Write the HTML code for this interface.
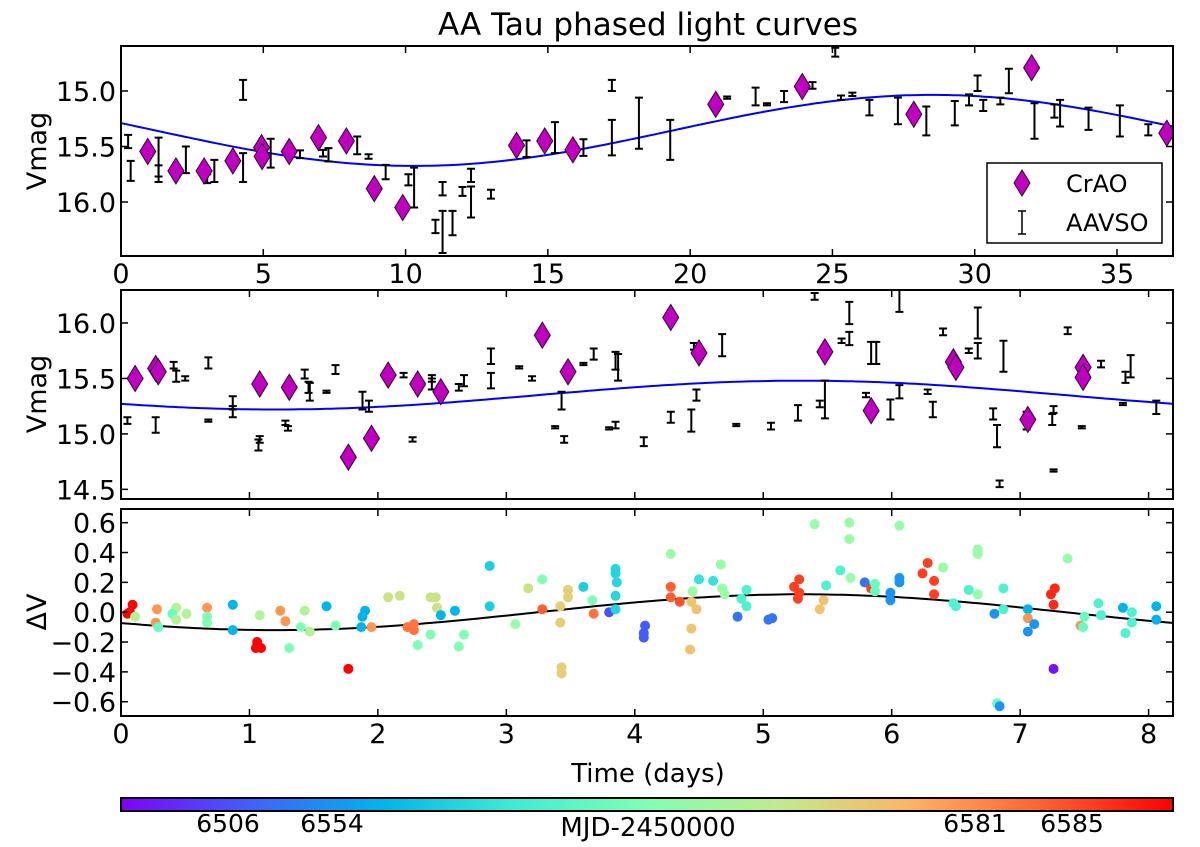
<!DOCTYPE html>
<html><head><meta charset="utf-8"><style>
html,body{margin:0;padding:0;background:#fff;}
svg{display:block;font-family:"DejaVu Sans","Liberation Sans",sans-serif;}
</style></head><body>
<svg id="fig" width="1200" height="847" viewBox="0 0 1200 847" xmlns="http://www.w3.org/2000/svg">
<defs>
<linearGradient id="rb" x1="0" x2="1" y1="0" y2="0">
<stop offset="0" stop-color="#8000ff"/><stop offset="0.125" stop-color="#4062fa"/><stop offset="0.25" stop-color="#00b5eb"/><stop offset="0.375" stop-color="#40ecd4"/><stop offset="0.5" stop-color="#80ffb4"/><stop offset="0.625" stop-color="#c0eb8d"/><stop offset="0.75" stop-color="#ffb462"/><stop offset="0.875" stop-color="#ff6232"/><stop offset="1" stop-color="#ff0000"/>
</linearGradient>
<clipPath id="c1"><rect x="121" y="46" width="1052" height="210"/></clipPath>
<clipPath id="c2"><rect x="121" y="290" width="1052" height="209"/></clipPath>
<clipPath id="c3"><rect x="121" y="509" width="1052" height="207"/></clipPath>
</defs>
<text x="648" y="35" font-size="31" text-anchor="middle">AA Tau phased light curves</text>
<text transform="translate(46,151) rotate(-90)" font-size="27" text-anchor="middle">Vmag</text>
<text transform="translate(46,394) rotate(-90)" font-size="27" text-anchor="middle">Vmag</text>
<text transform="translate(46,612) rotate(-90)" font-size="27" text-anchor="middle">ΔV</text>
<text x="648" y="782" font-size="26" text-anchor="middle">Time (days)</text>
<g id="g1"></g>
<g id="g2"></g>
<g id="g3"></g>
<rect x="121" y="798" width="1052" height="13" fill="url(#rb)" stroke="#000" stroke-width="2"/>
<text x="228" y="832" font-size="25" text-anchor="middle">6506</text>
<text x="332" y="832" font-size="25" text-anchor="middle">6554</text>
<text x="648" y="836" font-size="26" text-anchor="middle">MJD-2450000</text>
<text x="975" y="832" font-size="25" text-anchor="middle">6581</text>
<text x="1072" y="832" font-size="25" text-anchor="middle">6585</text>
</svg>
<script>
// ---- Panel 1 data ----
const p1CrDays=[0.94,1.93,2.92,3.93,4.94,4.96,5.91,6.94,7.92,8.9,9.9,13.9,14.89,15.88,20.9,23.94,27.86,32.0,36.75];
const p1CrMag=[15.545,15.72,15.72,15.63,15.51,15.59,15.545,15.42,15.45,15.88,16.05,15.49,15.45,15.53,15.12,14.96,15.21,14.79,15.38];
const p1AvDays=[0.34,0.25,1.32,1.32,2.28,3.28,3.03,4.29,4.29,5.26,6.29,7.29,7.1,8.3,8.7,9.3,10.1,10.3,11.3,11.05,11.3,11.65,12.0,12.3,12.3,13.0,14.25,15.25,16.25,17.25,17.25,18.2,19.3,21.3,22.3,22.7,23.3,24.3,25.1,25.3,25.7,26.3,27.3,28.3,29.3,29.8,30.1,30.3,30.9,31.2,32.1,32.8,33.0,34.0,35.1,36.1];
const p1AvMag=[15.72,15.455,15.62,15.72,15.62,15.72,15.79,15.69,14.99,15.56,15.57,15.575,15.56,15.49,15.59,15.73,15.8,15.87,15.88,16.22,16.27,16.19,15.905,16.0,15.76,15.93,15.52,15.42,15.51,14.95,15.42,15.29,15.44,15.06,15.05,15.12,15.05,14.95,14.65,15.06,15.03,15.15,15.18,15.27,15.2,15.08,14.93,15.13,15.09,14.91,15.27,15.18,15.2,15.25,15.27,15.35];
const p1AvErr=[0.09,0.06,0.2,0.05,0.12,0.1,0.04,0.13,0.09,0.13,0.035,0.06,0.03,0.08,0.02,0.065,0.05,0.18,0.06,0.06,0.19,0.11,0.04,0.14,0.06,0.04,0.075,0.14,0.075,0.05,0.16,0.23,0.18,0.01,0.08,0.01,0.05,0.03,0.04,0.02,0.015,0.07,0.12,0.13,0.11,0.05,0.07,0.05,0.03,0.11,0.16,0.06,0.12,0.1,0.14,0.05];
const p1Fit=[15.355,0.32,36.4,10.3]; // mean, amplitude, period, faintest phase
// ---- Panel 2 data ----
const p2CrDays=[0.11,0.27,0.29,1.08,1.31,1.77,1.95,2.08,2.31,2.49,3.28,3.48,4.28,4.5,5.48,5.84,6.48,6.5,7.06,7.49,7.49];
const p2CrMag=[15.5,15.59,15.56,15.45,15.42,14.79,14.96,15.53,15.45,15.38,15.89,15.56,16.05,15.73,15.74,15.21,15.65,15.6,15.13,15.6,15.51];
const p2AvDays=[0.05,0.27,0.41,0.43,0.5,0.68,0.68,0.87,0.87,1.07,1.08,1.28,1.3,1.43,1.46,1.47,1.6,1.67,1.88,1.93,2.2,2.27,2.42,2.42,2.63,2.67,2.88,2.88,3.1,3.2,3.38,3.43,3.45,3.6,3.68,3.8,3.85,3.85,3.87,4.07,4.28,4.44,4.48,4.46,4.68,4.79,5.06,5.27,5.44,5.48,5.4,5.61,5.67,5.67,5.84,5.88,5.8,5.99,6.06,6.06,6.28,6.32,6.4,6.6,6.67,6.67,6.79,6.82,6.84,6.87,7.05,7.25,7.26,7.26,7.37,7.48,7.63,7.82,7.86,7.8,8.06];
const p2AvMag=[15.12,15.08,15.62,15.52,15.5,15.64,15.12,15.28,15.2,14.9,14.95,15.1,15.05,15.54,15.42,15.38,15.38,15.58,15.3,15.25,15.53,14.95,15.5,15.45,15.42,15.48,15.7,15.48,15.6,15.5,15.06,15.3,14.95,15.63,15.72,15.05,15.08,15.66,15.6,14.93,15.15,15.12,15.35,15.79,15.8,15.08,15.07,15.19,15.27,15.31,16.24,15.84,16.09,15.86,15.73,15.73,15.35,15.22,15.38,16.2,15.38,15.22,15.92,15.75,15.75,16.0,15.18,14.98,14.55,15.7,15.12,15.13,14.67,15.22,15.93,15.06,15.63,15.51,15.61,15.27,15.24];
const p2AvErr=[0.03,0.07,0.03,0.05,0.02,0.05,0.01,0.06,0.05,0.05,0.03,0.02,0.02,0.04,0.05,0.08,0.01,0.04,0.08,0.05,0.02,0.02,0.03,0.05,0.03,0.05,0.07,0.07,0.01,0.02,0.01,0.08,0.03,0.01,0.05,0.01,0.03,0.08,0.12,0.04,0.05,0.1,0.05,0.03,0.1,0.01,0.03,0.07,0.03,0.17,0.03,0.02,0.1,0.06,0.1,0.1,0.02,0.09,0.06,0.1,0.02,0.07,0.03,0.02,0.07,0.14,0.05,0.1,0.03,0.14,0.08,0.05,0.01,0.03,0.03,0.01,0.03,0.05,0.1,0.01,0.06];
const p2Fit=[15.35,0.13,8.2,5.3];
// ---- Panel 3 data ----
const p3Days=[0.05,0.09,0.07,0.11,0.28,0.27,0.29,0.43,0.4,0.43,0.51,0.67,0.67,0.67,0.87,0.87,1.08,1.06,1.05,1.09,1.24,1.28,1.31,1.4,1.43,1.47,1.6,1.67,1.77,1.87,1.88,1.9,1.95,2.08,2.17,2.23,2.28,2.28,2.31,2.41,2.41,2.45,2.46,2.49,2.6,2.63,2.67,2.87,2.87,3.07,3.17,3.28,3.28,3.42,3.42,3.43,3.43,3.48,3.48,3.6,3.67,3.68,3.8,3.85,3.85,3.86,3.85,3.85,4.08,4.07,4.07,4.28,4.28,4.28,4.35,4.44,4.48,4.44,4.43,4.45,4.5,4.61,4.67,4.68,4.7,4.8,4.83,4.87,4.87,5.04,5.07,5.24,5.28,5.27,5.28,5.4,5.44,5.47,5.49,5.6,5.67,5.67,5.68,5.79,5.84,5.87,5.87,5.99,5.99,6.06,6.06,6.06,6.24,6.28,6.33,6.33,6.4,6.48,6.5,6.6,6.67,6.67,6.67,6.8,6.87,6.87,6.82,6.84,7.06,7.06,7.06,7.11,7.24,7.27,7.26,7.26,7.37,7.47,7.49,7.5,7.61,7.63,7.8,7.82,7.87,7.87,8.06,8.06];
const p3Dv=[-0.01,0.05,0.0,-0.03,0.02,-0.07,-0.1,0.03,-0.01,-0.05,-0.01,0.03,-0.03,-0.07,0.05,-0.12,-0.02,-0.2,-0.24,-0.24,0.01,-0.06,-0.24,-0.1,0.01,-0.13,0.04,-0.09,-0.38,-0.1,-0.03,0.01,-0.1,0.1,0.11,-0.1,-0.08,-0.12,-0.22,-0.15,0.1,0.1,0.03,-0.02,0.01,-0.23,-0.15,0.31,0.04,-0.08,0.16,0.22,0.02,0.04,-0.07,-0.37,-0.41,0.15,0.1,0.17,0.08,-0.01,0.0,0.29,0.26,0.2,0.11,0.02,-0.09,-0.14,-0.17,0.39,0.17,0.1,0.07,0.07,0.02,-0.11,-0.25,0.14,0.22,0.21,0.32,0.16,0.12,-0.03,0.09,0.15,0.04,-0.05,-0.04,0.17,0.22,0.09,0.13,0.59,0.02,0.08,0.18,0.28,0.6,0.49,0.23,0.2,0.16,0.19,0.14,0.13,0.08,0.58,0.23,0.2,0.26,0.33,0.21,0.12,0.3,0.06,0.04,0.15,0.42,0.39,0.12,-0.01,0.16,0.02,-0.61,-0.63,0.02,-0.04,-0.13,-0.08,0.12,0.16,0.05,-0.38,0.36,-0.09,-0.1,-0.03,0.06,-0.02,0.03,-0.14,-0.07,0.0,0.04,-0.05];
const p3Color=[1,1,1,0.6,0.8,0.8,0.45,0.6,0.45,0.6,0.6,0.8,0.5,0.5,0.25,0.25,0.6,1,1,1,0.8,0.8,0.5,0.5,0.6,0.6,0.25,0.5,1,0.25,0.25,0.25,0.8,0.65,0.65,0.85,0.85,0.85,0.5,0.5,0.65,0.65,0.65,0.25,0.25,0.5,0.5,0.3,0.3,0.55,0.65,0.5,0.88,0.7,0.7,0.7,0.7,0.7,0.7,0.3,0.5,0.85,0.1,0.32,0.32,0.32,0.32,0.32,0.12,0.12,0.12,0.55,0.88,0.88,0.9,0.72,0.72,0.72,0.72,0.55,0.35,0.35,0.55,0.55,0.55,0.15,0.4,0.4,0.4,0.15,0.15,0.92,0.92,0.92,0.92,0.55,0.72,0.72,0.4,0.4,0.55,0.55,0.55,0.15,0.92,0.45,0.45,0.2,0.2,0.55,0.2,0.2,0.92,0.92,0.92,0.92,0.55,0.4,0.4,0.4,0.55,0.55,0.55,0.2,0.4,0.4,0.45,0.2,0.25,0.8,0.2,0.2,0.95,0.95,0.95,0.02,0.55,0.8,0.45,0.45,0.4,0.4,0.25,0.4,0.4,0.4,0.25,0.25];
const p3Fit=[0,0.12,8.2,5.3];
const p1Ticks=[0,5,10,15,20,25,30,35];
const p1YTicks=["15.0","15.5","16.0"];
const p2Ticks=[0,1,2,3,4,5,6,7,8];
const p2YTicks=["14.5","15.0","15.5","16.0"];
const p3YTicks=["−0.6","−0.4","−0.2","0.0","0.2","0.4","0.6"];
const p3YVals=[-0.6,-0.4,-0.2,0,0.2,0.4,0.6];

const NS='http://www.w3.org/2000/svg';
const L=121,R=1173;
function mk(tag,attrs,parent){const e=document.createElementNS(NS,tag);for(const k in attrs)e.setAttribute(k,attrs[k]);parent.appendChild(e);return e;}
function rainbow(t){const r=Math.min(1,Math.abs(2*t-0.5)),g=Math.sin(Math.PI*t),b=Math.cos(Math.PI*t/2);return `rgb(${Math.round(r*255)},${Math.round(g*255)},${Math.round(b*255)})`;}
function fitVal(f,x){return f[0]+f[1]*Math.cos(2*Math.PI*(x-f[3])/f[2]);}

const x1=d=>L+d*(1117-L)/35, y1=m=>91+(m-15.0)*111;
const xd=d=>L+d*(R-L)/8.19;
const y2=m=>323-(m-16.0)*110.9;
const y3=v=>612.2-v*149.2;

function frameTicks(g,top,bot,xt,xf,yt,yf,labelX,labelsY){
  xt.forEach((v,i)=>{const x=xf(v);
    const t1=mk('line',{x1:x,x2:x,y1:bot,y2:bot-7,stroke:'#000','stroke-width':1.5},g);
    
    mk('line',{x1:x,x2:x,y1:top,y2:top+7,stroke:'#000','stroke-width':1.5},g);
    if(labelX){const t=mk('text',{x:x,y:bot+27,'font-size':27,'text-anchor':'middle'},g);t.textContent=String(v);
      }
  });
  yt.forEach((v,i)=>{const y=yf(v);
    mk('line',{x1:L,x2:L+7,y1:y,y2:y,stroke:'#000','stroke-width':1.5},g);
    mk('line',{x1:R,x2:R-7,y1:y,y2:y,stroke:'#000','stroke-width':1.5},g);
    const t=mk('text',{x:L-5,y:y+10,'font-size':27,'text-anchor':'end'},g);t.textContent=labelsY[i];
    
  });
}
function curve(g,f,xf,yf,xmax,color,clip){
  let d='';for(let i=0;i<=200;i++){const x=xmax*i/200;d+=(i?'L':'M')+xf(x).toFixed(1)+','+yf(fitVal(f,x)).toFixed(1);}
  const p=mk('path',{d:d,fill:'none',stroke:color,'stroke-width':2,'clip-path':`url(#${clip})`},g);
  
}
function errbars(g,days,mag,err,xf,yf,clip){
  const gg=mk('g',{'clip-path':`url(#${clip})`},g);
  
  days.forEach((d,i)=>{const x=xf(d),ya=yf(mag[i]-err[i]),yb=yf(mag[i]+err[i]);
    const e=mk('path',{d:`M${x},${ya}L${x},${yb}M${x-4},${ya}L${x+4},${ya}M${x-4},${yb}L${x+4},${yb}`,stroke:'#000','stroke-width':2,fill:'none'},gg);
    });
}
function diamonds(g,days,mag,xf,yf,clip){
  const gg=mk('g',{'clip-path':`url(#${clip})`},g);
  
  days.forEach((d,i)=>{const x=xf(d),y=yf(mag[i]);
    const e=mk('path',{d:`M${x},${y-13}L${x+8},${y}L${x},${y+13}L${x-8},${y}Z`,fill:'#bf00bf',stroke:'#3a003a','stroke-width':1},gg);
    });
}
// Panel 1
{const g=document.getElementById('g1');
 curve(g,p1Fit,x1,y1,37,'#0000ff','c1');
 errbars(g,p1AvDays,p1AvMag,p1AvErr,x1,y1,'c1');
 diamonds(g,p1CrDays,p1CrMag,x1,y1,'c1');
 frameTicks(g,46,256,p1Ticks,x1,[15.0,15.5,16.0],y1,true,p1YTicks);
 mk('rect',{x:L,y:46,width:R-L,height:210,fill:'none',stroke:'#000','stroke-width':2},g);
 const lg=mk('g',{},g);
 mk('rect',{x:987,y:163,width:175,height:80,fill:'#fff',stroke:'#000','stroke-width':1.5},lg);
 mk('path',{d:'M1022,170L1030,183L1022,196L1014,183Z',fill:'#bf00bf',stroke:'#3a003a'},lg);
 const a=mk('text',{x:1066,y:192,'font-size':24},lg);a.textContent='CrAO';
 
 mk('path',{d:'M1022,211L1022,234M1018,211L1026,211M1018,234L1026,234',stroke:'#000','stroke-width':1.5,fill:'none'},lg);
 const b=mk('text',{x:1066,y:231,'font-size':24},lg);b.textContent='AAVSO';
 
}
// Panel 2
{const g=document.getElementById('g2');
 curve(g,p2Fit,xd,y2,8.19,'#0000ff','c2');
 errbars(g,p2AvDays,p2AvMag,p2AvErr,xd,y2,'c2');
 diamonds(g,p2CrDays,p2CrMag,xd,y2,'c2');
 frameTicks(g,290,499,p2Ticks,xd,[14.5,15.0,15.5,16.0],y2,false,p2YTicks);
 mk('rect',{x:L,y:290,width:R-L,height:209,fill:'none',stroke:'#000','stroke-width':2},g);
}
// Panel 3
{const g=document.getElementById('g3');
 curve(g,p3Fit,xd,y3,8.19,'#000','c3');
 const gg=mk('g',{'clip-path':'url(#c3)'},g);
 
 p3Days.forEach((d,i)=>{const c=mk('circle',{cx:xd(d),cy:y3(p3Dv[i]),r:5,fill:rainbow(p3Color[i])},gg);
   });
 frameTicks(g,509,716,p2Ticks,xd,p3YVals,y3,true,p3YTicks);
 mk('rect',{x:L,y:509,width:R-L,height:207,fill:'none',stroke:'#000','stroke-width':2},g);
}
</script>
</body></html>
